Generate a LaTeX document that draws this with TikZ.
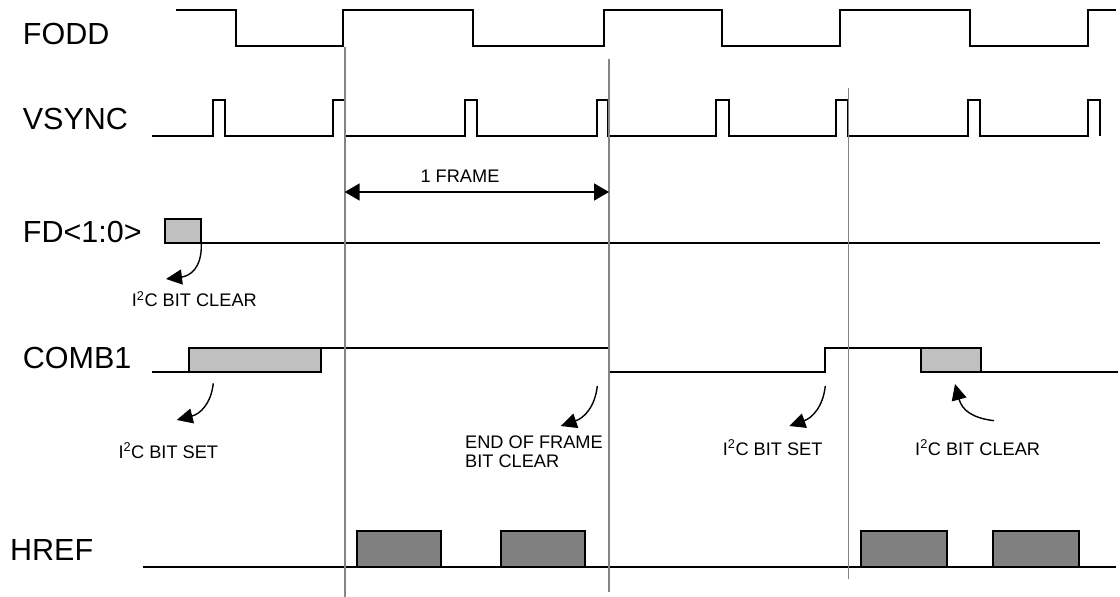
\documentclass[tikz,border=0pt]{standalone}
\usepackage{fontspec}
\setmainfont{Liberation Sans}
\usetikzlibrary{arrows.meta}
\definecolor{lightbox}{HTML}{C0C0C0}
\definecolor{darkbox}{HTML}{808080}
\definecolor{guide}{HTML}{858585}
\tikzset{
  sig/.style={line width=2pt, line join=miter},
  guideline/.style={draw=guide, line width=1.7pt},
  biglabel/.style={anchor=base west, inner sep=0pt, font=\fontsize{30.5}{32}\selectfont},
  smalllabel/.style={anchor=base west, inner sep=0pt, font=\fontsize{18.2}{19}\selectfont},
  notearrow/.style={line width=1.4pt, -{Triangle[length=16pt,width=15pt]}},
  transbox/.style={sig, fill=lightbox},
  hrefbox/.style={sig, fill=darkbox},
}
\begin{document}
\begin{tikzpicture}[x=1pt,y=-1pt]
\useasboundingbox (0,0) rectangle (1120,597);

% signal names
\node[biglabel] (lfodd) at (22.7,45) {FODD};
\node[biglabel] (lvsync) at (22.7,129.3) {VSYNC};
\node[biglabel] (lfd) at (22.7,242.7) {FD<1:0>};
\node[biglabel] (lcomb) at (22.7,368.3) {COMB1};
\node[biglabel] (lhref) at (10,560) {HREF};

% FODD
\draw[sig] (176,10) -- (236,10) -- (236,46) -- (343,46) -- (343,10) -- (473,10) -- (473,46)
  -- (604,46) -- (604,10) -- (722,10) -- (722,46) -- (840,46) -- (840,10) -- (970,10)
  -- (970,46) -- (1088,46) -- (1088,10) -- (1116,10);

% VSYNC
\draw[sig] (152,135.5)
  foreach \a/\b in {212.7/225,332.7/344.5,464.7/477.3,596.5/608,716.4/728.6,836/848.2,968.2/980,1087.8/1099.6}
  { -- (\a,135.5) -- (\a,100) -- (\b,100) -- (\b,135.5) };

% FD<1:0>
\draw[transbox] (164.7,219) rectangle (201.3,242.7);
\coordinate (fdbox) at (201.3,244);
\draw[sig] (201.3,242.7) -- (1100,242.7);

% COMB1
\draw[sig] (152,372.3) -- (189,372.3);
\draw[transbox] (189,347.7) rectangle (321,372.3);
\draw[sig] (321,347.7) -- (608.7,347.7) -- (608.7,372.3) -- (825.3,372.3) -- (825.3,347.7) -- (920.7,347.7);
\draw[transbox] (920.7,347.7) rectangle (981,372.3);
\draw[sig] (981,372.3) -- (1118,372.3);

% HREF
\draw[sig] (143.3,566.7) -- (1116,566.7);
\draw[hrefbox] (356.7,530.7) rectangle (441,566.7);
\draw[hrefbox] (501,530.7) rectangle (585,566.7);
\draw[hrefbox] (860.7,530.7) rectangle (947.3,566.7);
\draw[hrefbox] (993,530.7) rectangle (1079,566.7);

% guide lines
\coordinate (g1t) at (344.7,47);   \coordinate (g1b) at (344.7,597);
\coordinate (g2t) at (608.7,59);   \coordinate (g2b) at (608.7,591.7);
\coordinate (g3t) at (848.5,87.7); \coordinate (g3b) at (848.5,579);
\draw[guideline] (g1t) -- (g1b);
\draw[guideline] (g2t) -- (g2b);
\draw[guideline] (g3t) -- (g3b);

% 1 FRAME
\coordinate (fa) at (344.7,192);
\coordinate (fb) at (609,192);
\draw[line width=1.7pt, {Triangle[length=15pt,width=17pt]}-{Triangle[length=15pt,width=17pt]}] (fa) -- (fb);
\node[anchor=base, inner sep=0pt, font=\fontsize{18.2}{19}\selectfont] (lframe) at (460,182.7) {1 FRAME};

% annotations
\node[smalllabel] (n1) at (131.7,306.7) {I\textsuperscript{2}C BIT CLEAR};
\coordinate (t1) at (166,279);
\draw[notearrow] (fdbox) .. controls (202,268) and (190,276) .. (t1);

\node[smalllabel] (n2) at (118.3,458) {I\textsuperscript{2}C BIT SET};
\coordinate (s2) at (213.3,383.3); \coordinate (t2) at (176.7,420);
\draw[notearrow] (s2) .. controls (211,404) and (200,414) .. (t2);

\node[smalllabel, align=left] (n3) at (465,467) {END OF FRAME\\BIT CLEAR};
\coordinate (s3) at (597.3,386); \coordinate (t3) at (560.7,426);
\draw[notearrow] (s3) .. controls (595,407) and (584,418) .. (t3);

\node[smalllabel] (n4) at (722.7,455) {I\textsuperscript{2}C BIT SET};
\coordinate (s4) at (825.3,386); \coordinate (t4) at (789.3,426);
\draw[notearrow] (s4) .. controls (823,407) and (812,418) .. (t4);

\node[smalllabel] (n5) at (915,455) {I\textsuperscript{2}C BIT CLEAR};
\coordinate (s5) at (994,420.7); \coordinate (t5) at (955,384);
\draw[notearrow] (s5) .. controls (972,418) and (962,410) .. (t5);
\end{tikzpicture}
\end{document}
